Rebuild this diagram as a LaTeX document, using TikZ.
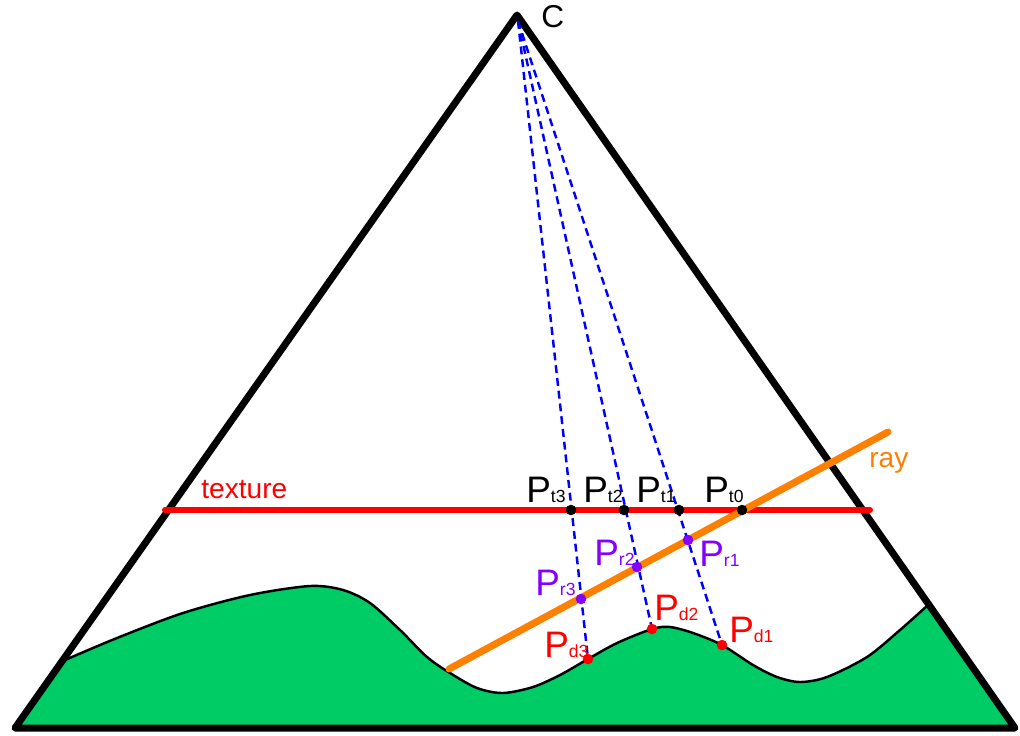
\documentclass[tikz,border=0pt]{standalone}
\usepackage{fontspec}
\setmainfont{Liberation Sans}
\usepackage{tikz}
\usetikzlibrary{positioning}
\definecolor{grass}{RGB}{0,204,102}
\definecolor{rayorange}{RGB}{255,128,0}
\definecolor{refviolet}{RGB}{132,0,255}
\newcommand{\plab}[1]{P{\fontsize{10}{10}\selectfont #1}}
\newcommand{\ridgeline}{(65,660) (117,638) (183,613) (250,595) (310,586) (343,590)
  (370,603) (400,630) (427,657) (450,673) (477,688) (503,693) (533,687) (560,675)
  (588,659) (617,643) (652,629) (670,627) (693,633) (722,645) (753,665) (777,677)
  (800,682) (827,677) (867,657) (900,630) (928,605)}
\tikzset{
  frustum/.style={line width=4pt,line join=round},
  texline/.style={line width=3.4pt,red,line cap=round},
  rayline/.style={line width=4pt,rayorange,line cap=round},
  proj/.style={blue,line width=1.4pt,dash pattern=on 4.5pt off 2.8pt},
  ridge/.style={line width=1.4pt},
  dot/.style={circle,inner sep=0pt,minimum size=6pt},
  plabel/.style={font=\fontsize{21}{21}\selectfont,inner sep=0pt,anchor=base west},
  tag/.style={font=\fontsize{16}{16}\selectfont,inner sep=0pt,anchor=base west}
}

\begin{document}
\begin{tikzpicture}[x=0.02cm,y=-0.02cm]
  \useasboundingbox (0,0) rectangle (1020,735);
  % terrain
  \fill[grass] plot[smooth,tension=0.5] coordinates {\ridgeline}
    -- (1015,728) -- (15,728) -- cycle;
  \draw[ridge] plot[smooth,tension=0.5] coordinates {\ridgeline};
  % camera frustum
  \draw[frustum] (517,15) -- (1015,728) -- (15,728) -- cycle;
  \node[tag,font=\fontsize{18}{18}\selectfont] (cam) at (541,27) {C};
  % texture plane and ray
  \coordinate (texL) at (165,510);
  \coordinate (texR) at (870,510);
  \draw[texline] (texL) -- (texR);
  \node[tag,red] (texture) at (201,498) {texture};
  \coordinate (rayA) at (449,669);
  \coordinate (rayB) at (888,432);
  \draw[rayline] (rayA) -- (rayB);
  \node[tag,rayorange] (raylab) at (869,467) {ray};
  % projection lines
  \coordinate (C) at (518,21);
  \coordinate (d1) at (722,645);
  \coordinate (d2) at (652,629);
  \coordinate (d3) at (588,659);
  \draw[proj] (C) -- (d1);
  \draw[proj] (C) -- (d2);
  \draw[proj] (C) -- (d3);
  % points
  \node[dot,fill=black] (pt0) at (742,510) {};
  \node[dot,fill=black] (pt1) at (679,510) {};
  \node[dot,fill=black] (pt2) at (624,510) {};
  \node[dot,fill=black] (pt3) at (571,510) {};
  \node[dot,fill=refviolet] (pr1) at (688,540) {};
  \node[dot,fill=refviolet] (pr2) at (637,567) {};
  \node[dot,fill=refviolet] (pr3) at (581,599) {};
  \node[dot,fill=red] (pd1) at (d1) {};
  \node[dot,fill=red] (pd2) at (d2) {};
  \node[dot,fill=red] (pd3) at (d3) {};
  % labels
  \node[plabel] (lt3) at (526,502) {\plab{t3}};
  \node[plabel] (lt2) at (583,502) {\plab{t2}};
  \node[plabel] (lt1) at (636,502) {\plab{t1}};
  \node[plabel] (lt0) at (704,502) {\plab{t0}};
  \node[plabel,refviolet] (lr3) at (535,595) {\plab{r3}};
  \node[plabel,refviolet] (lr2) at (594,565) {\plab{r2}};
  \node[plabel,refviolet] (lr1) at (699,566) {\plab{r1}};
  \node[plabel,red] (ld3) at (544,657) {\plab{d3}};
  \node[plabel,red] (ld2) at (654,620) {\plab{d2}};
  \node[plabel,red] (ld1) at (729,642) {\plab{d1}};
\end{tikzpicture}
\end{document}
